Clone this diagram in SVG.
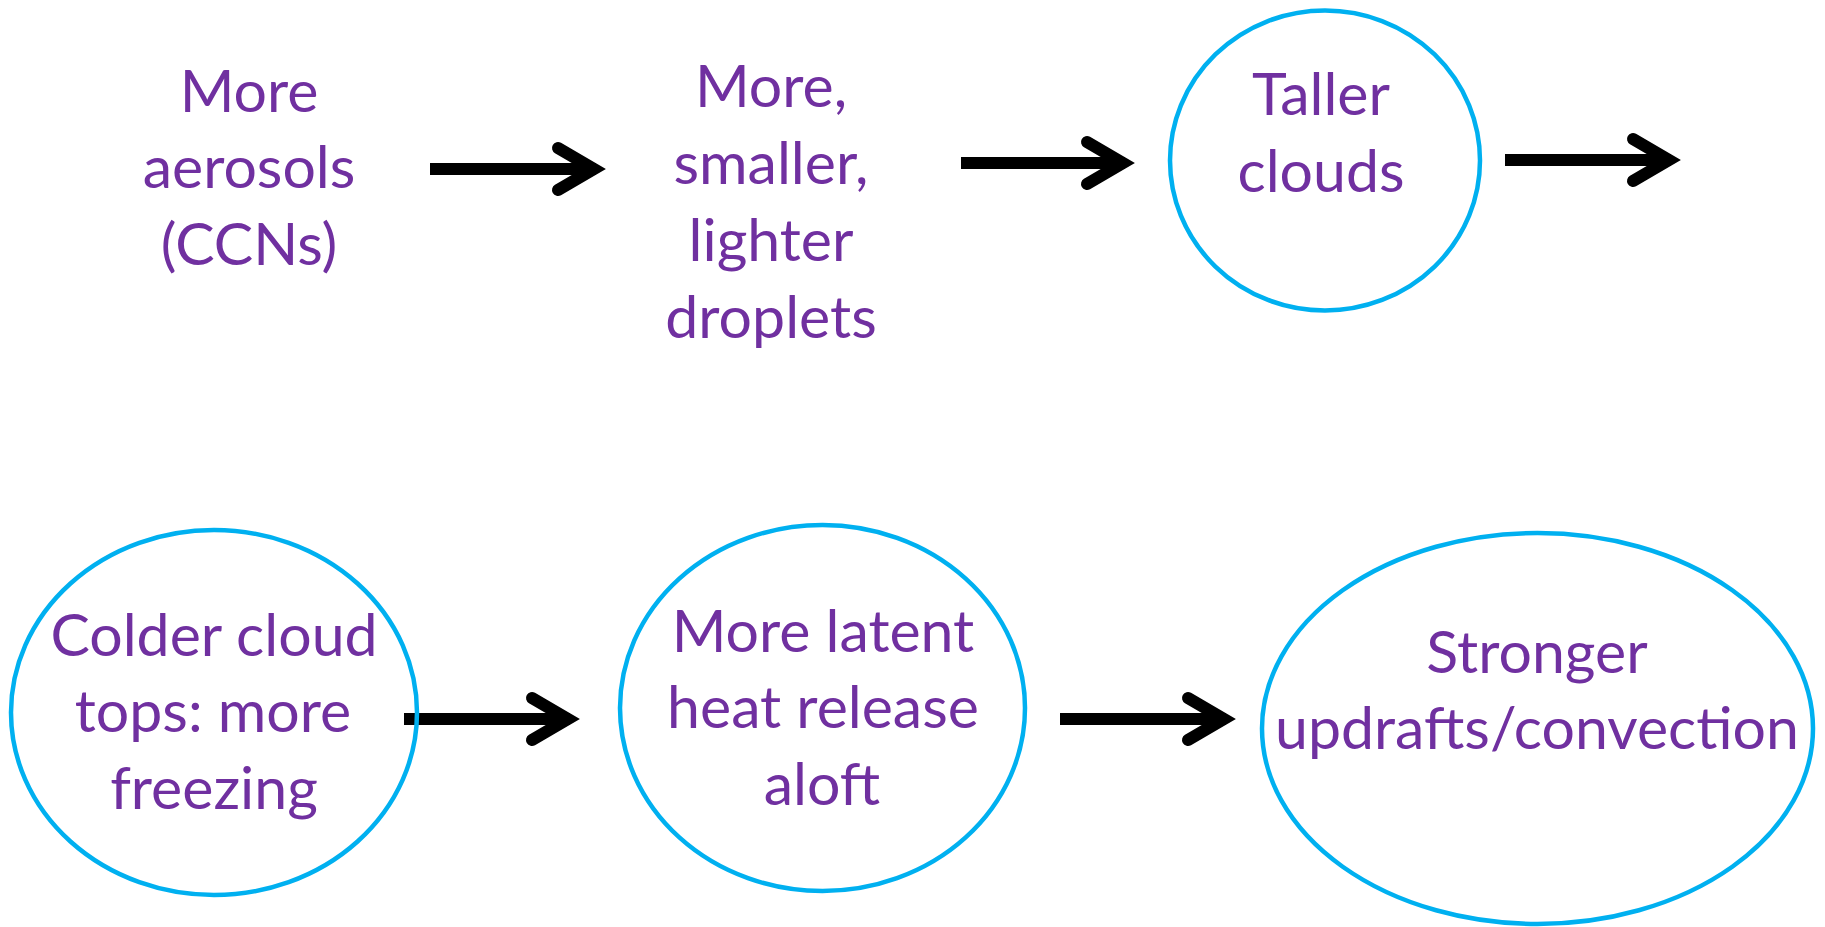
<svg xmlns="http://www.w3.org/2000/svg" width="1825" height="927" viewBox="0 0 1825 927">
  <style>
    .label { font-family: Lato, "Liberation Sans", sans-serif; font-size: 59px; fill: #7030A0; text-anchor: middle; }
    .bubble { fill: none; stroke: #00B0F0; stroke-width: 4.5; }
    .shaft { fill: none; stroke: #000000; stroke-width: 12; stroke-linecap: butt; marker-end: url(#chevron); }
  </style>
  <defs>
    <!-- open chevron head; the reference point is the joint of the two arms -->
    <marker id="chevron" viewBox="-50 -30 70 60" refX="0" refY="0" markerWidth="70" markerHeight="60" markerUnits="userSpaceOnUse" orient="auto" overflow="visible">
      <polyline points="-36,-21 0,0 -36,21" fill="none" stroke="#000000" stroke-width="12" stroke-linecap="round" stroke-linejoin="miter"/>
    </marker>
  </defs>
  <rect width="1825" height="927" fill="#FFFFFF"/>

  <g id="connectors">
    <path class="shaft" d="M430,169 H594"/>
    <path class="shaft" d="M961,163 H1123"/>
    <path class="shaft" d="M1505,160 H1669"/>
    <path class="shaft" d="M404,719 H568"/>
    <path class="shaft" d="M1060,719 H1224"/>
  </g>

  <g id="more-aerosols">
    <text class="label" x="249" y="112">More</text>
    <text class="label" x="249" y="188">aerosols</text>
    <text class="label" x="249" y="265">(CCNs)</text>
  </g>

  <g id="smaller-droplets">
    <text class="label" x="771" y="107">More,</text>
    <text class="label" x="771" y="184">smaller,</text>
    <text class="label" x="771" y="261">lighter</text>
    <text class="label" x="771" y="338">droplets</text>
  </g>

  <g id="taller-clouds">
    <ellipse class="bubble" cx="1325" cy="160.5" rx="155" ry="150"/>
    <text class="label" x="1321" y="115">Taller</text>
    <text class="label" x="1321" y="192">clouds</text>
  </g>

  <g id="colder-tops">
    <ellipse class="bubble" cx="214" cy="712.5" rx="203" ry="182.5"/>
    <text class="label" x="214" y="656">Colder cloud</text>
    <text class="label" x="213" y="732">tops: more</text>
    <text class="label" x="214" y="809">freezing</text>
  </g>

  <g id="latent-heat">
    <ellipse class="bubble" cx="822.5" cy="708" rx="202.5" ry="183"/>
    <text class="label" x="823" y="652">More latent</text>
    <text class="label" x="823" y="728">heat release</text>
    <text class="label" x="822" y="805">aloft</text>
  </g>

  <g id="stronger-updrafts">
    <ellipse class="bubble" cx="1537.5" cy="728.5" rx="275.5" ry="195.5"/>
    <text class="label" x="1537" y="673">Stronger</text>
    <text class="label" x="1537" y="749">updrafts/convection</text>
  </g>
</svg>
